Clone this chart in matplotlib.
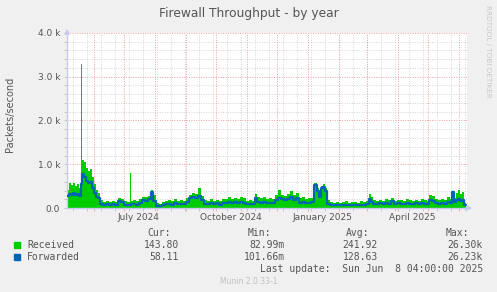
import matplotlib
matplotlib.use('Agg')
import matplotlib.pyplot as plt
import matplotlib.dates as mdates
import matplotlib.transforms as mtransforms
from matplotlib.patches import Rectangle
import numpy as np
from datetime import datetime, timedelta

# data (days since START, values in k packets/s)
START = datetime(2024, 5, 5)
LAST_UPDATE = datetime(2025, 6, 8, 4)
DAY_OFFSETS = [
    0, 2, 4, 6, 8, 10, 12, 14, 15, 17, 19, 21, 23, 25, 27, 29, 31,
    33, 36, 39, 42, 45, 48, 51, 54, 57, 60, 63, 64, 66, 69, 72, 75, 78, 81, 84, 86,
    89, 92, 95, 98, 101, 104, 107, 110, 113, 116, 119, 122, 125, 128, 131, 134,
    137, 140, 143, 146, 149, 152, 155, 158,
    161, 164, 167, 170, 173, 176, 179, 182, 185, 188, 190, 193, 196, 199, 202, 205,
    208, 211, 214, 217, 220, 223, 226, 229, 232, 235, 238, 241, 244, 247, 250, 252,
    254, 256, 258, 260,
    263, 266, 269, 272, 275, 278, 281, 284, 287, 290, 293, 296, 299, 302, 304, 306,
    309, 312, 315, 318, 321, 324, 327, 330, 333, 336, 339, 342, 345, 348, 351, 354,
    357, 360, 362, 365, 368, 371, 374, 377, 380, 383, 385, 387, 389, 391, 393, 395, 397,
]
RECEIVED_K = [
    0.42, 0.56, 0.52, 0.58, 0.50, 0.55, 0.45, 3.30, 1.10, 1.05, 0.92, 0.85, 0.90, 0.70, 0.55, 0.40, 0.35,
    0.18, 0.14, 0.16, 0.13, 0.17, 0.14, 0.22, 0.20, 0.15, 0.13, 0.80, 0.16, 0.18, 0.15, 0.20, 0.26, 0.24, 0.28, 0.42, 0.30,
    0.12, 0.10, 0.13, 0.16, 0.18, 0.15, 0.20, 0.17, 0.19, 0.16, 0.22, 0.30, 0.35, 0.32, 0.45, 0.28,
    0.18, 0.16, 0.20, 0.17, 0.19, 0.15, 0.21, 0.20,
    0.24, 0.20, 0.23, 0.21, 0.25, 0.22, 0.17, 0.19, 0.16, 0.33, 0.25, 0.22, 0.24, 0.20, 0.23, 0.21,
    0.30, 0.42, 0.30, 0.28, 0.32, 0.38, 0.30, 0.34, 0.22, 0.24, 0.20, 0.23, 0.22, 0.56, 0.45, 0.30,
    0.50, 0.55, 0.45, 0.18,
    0.13, 0.12, 0.14, 0.12, 0.13, 0.15, 0.12, 0.14, 0.13, 0.12, 0.15, 0.14, 0.16, 0.33, 0.25, 0.18,
    0.17, 0.19, 0.16, 0.20, 0.18, 0.23, 0.17, 0.19, 0.18, 0.17, 0.20, 0.18, 0.16, 0.19, 0.17, 0.21,
    0.18, 0.16, 0.30, 0.28, 0.20, 0.19, 0.21, 0.18, 0.24, 0.20, 0.38, 0.22, 0.35, 0.40, 0.33, 0.36, 0.12,
]
FORWARDED_K = [
    0.28, 0.32, 0.30, 0.34, 0.30, 0.31, 0.28, 0.55, 0.78, 0.72, 0.62, 0.58, 0.60, 0.45, 0.35, 0.26, 0.24,
    0.10, 0.07, 0.09, 0.06, 0.09, 0.07, 0.15, 0.13, 0.08, 0.07, 0.08, 0.09, 0.10, 0.08, 0.12, 0.18, 0.16, 0.20, 0.37, 0.15,
    0.05, 0.05, 0.06, 0.09, 0.10, 0.08, 0.11, 0.09, 0.10, 0.09, 0.13, 0.22, 0.26, 0.24, 0.28, 0.18,
    0.10, 0.09, 0.11, 0.10, 0.11, 0.08, 0.12, 0.11,
    0.13, 0.11, 0.13, 0.12, 0.14, 0.12, 0.09, 0.10, 0.09, 0.22, 0.14, 0.12, 0.13, 0.11, 0.12, 0.11,
    0.19, 0.24, 0.20, 0.18, 0.21, 0.25, 0.19, 0.22, 0.12, 0.13, 0.11, 0.12, 0.13, 0.53, 0.40, 0.26,
    0.45, 0.48, 0.38, 0.10,
    0.07, 0.06, 0.08, 0.07, 0.07, 0.08, 0.06, 0.08, 0.07, 0.06, 0.08, 0.07, 0.09, 0.20, 0.14, 0.10,
    0.09, 0.11, 0.09, 0.12, 0.10, 0.15, 0.10, 0.11, 0.10, 0.09, 0.12, 0.10, 0.09, 0.11, 0.10, 0.12,
    0.10, 0.09, 0.18, 0.15, 0.11, 0.10, 0.12, 0.10, 0.14, 0.12, 0.37, 0.14, 0.18, 0.20, 0.17, 0.19, 0.06,
]
SERIES = ['Received', 'Forwarded']
COLORS = ['#00CC00', '#0066B3']
CUR = ['143.80', '58.11']
MIN = ['82.99m', '101.66m']
AVG = ['241.92', '128.63']
MAX = ['26.30k', '26.23k']
Y_TICKS = [0, 1000, 2000, 3000, 4000]
Y_TICK_LABELS = ['0.0', '1.0 k', '2.0 k', '3.0 k', '4.0 k']
X_LABEL_MONTHS = [(2024, 7, 'July 2024'), (2024, 10, 'October 2024'),
                  (2025, 1, 'January 2025'), (2025, 4, 'April 2025')]

W, H = 497, 292
TXT = '#555555'
AXC = '#C8C8F0'
MINOR_C = '#D4D4D4'
MAJOR_C = '#F0A0A0'


def fx(x):
    return x / W


def fy(y):
    return 1 - y / H


dates = [START + timedelta(days=d) for d in DAY_OFFSETS] + [LAST_UPDATE]
recv = np.array(RECEIVED_K + RECEIVED_K[-1:]) * 1000
fwd = np.array(FORWARDED_K + FORWARDED_K[-1:]) * 1000
xmin, xmax = START, START + timedelta(days=400)

fig = plt.figure(figsize=(W / 100, H / 100), dpi=100, facecolor='#F0F0F0')
ax = fig.add_axes([fx(67), fy(208), fx(400), 175 / H])
ax.set_facecolor('white')
ax.set_xlim(xmin, xmax)
ax.set_ylim(0, 4000)

# grid: grey every 200 / 2 weeks, red every 1k / month
dot = (0, (1, 1.5))
for v in range(200, 4001, 200):
    major = v % 1000 == 0
    ax.axhline(v, color=MAJOR_C if major else MINOR_C, lw=0.7, ls=dot, zorder=1)
minor_x = []
d = START + timedelta(days=6)
while d < xmax:
    minor_x.append(d)
    ax.axvline(d, color=MINOR_C, lw=0.7, ls=dot, zorder=1)
    d += timedelta(days=14)
month_x = []
y, m = 2024, 6
while datetime(y, m, 1) < xmax:
    month_x.append(datetime(y, m, 1))
    ax.axvline(datetime(y, m, 1), color=MAJOR_C, lw=0.7, ls=dot, zorder=1)
    m += 1
    if m > 12:
        y, m = y + 1, 1

# data
ax.fill_between(dates, recv, step='post', color=COLORS[0], lw=0, zorder=2)
ax.step(dates, fwd, where='post', color=COLORS[1], lw=1.6, zorder=3)

# axes
for s in ['top', 'right']:
    ax.spines[s].set_visible(False)
for s in ['left', 'bottom']:
    ax.spines[s].set_color(AXC)
    ax.spines[s].set_linewidth(1.0)
ax.annotate('', xy=(0, 1.04), xytext=(0, 0.99), xycoords='axes fraction',
            arrowprops=dict(arrowstyle='-|>', color=AXC, lw=1, mutation_scale=7))
ax.annotate('', xy=(1.02, 0), xytext=(0.99, 0), xycoords='axes fraction',
            arrowprops=dict(arrowstyle='-|>', color=AXC, lw=1, mutation_scale=7))

ax.set_yticks(Y_TICKS)
ax.set_yticklabels(Y_TICK_LABELS)
ax.set_yticks(range(200, 4000, 200), minor=True)
ax.tick_params(axis='y', which='both', length=2, width=0.6, color='#C0C0C0',
               labelsize=6.5, labelcolor=TXT, pad=3)
ax.set_xticks(month_x)
ax.set_xticklabels([])
ax.set_xticks(minor_x, minor=True)
ax.tick_params(axis='x', which='major', length=2, width=0.6, color=MAJOR_C)
ax.tick_params(axis='x', which='minor', length=2, width=0.6, color='#C0C0C0')
lab_tr = mtransforms.blended_transform_factory(ax.transData, fig.transFigure)
for yr, mo, lab in X_LABEL_MONTHS:
    ax.text(mdates.date2num(datetime(yr, mo, 15, 12)), fy(217), lab, transform=lab_tr,
            ha='center', va='center', fontsize=6.5, color=TXT)

# texts
fig.text(0.5, fy(13), 'Firewall Throughput - by year', ha='center', va='center',
         fontsize=8.8, color=TXT)
fig.text(fx(10), fy(114), 'Packets/second', rotation=90, ha='center', va='center',
         fontsize=7, color=TXT)
fig.text(fx(488), fy(5), 'RRDTOOL / TOBI OETIKER', rotation=270, ha='center', va='top',
         fontsize=5.2, color='#C8C8C8')
fig.text(fx(249), fy(281), 'Munin 2.0.33-1', ha='center', va='center',
         fontsize=5.5, color='#C0C0C0')

mono = dict(family='DejaVu Sans Mono', fontsize=7, color=TXT, va='center')
for xr, lab in [(171, 'Cur:'), (271, 'Min:'), (369, 'Avg:'), (469, 'Max:')]:
    fig.text(fx(xr), fy(233), lab, ha='right', **mono)
for i, name in enumerate(SERIES):
    yc = 245 + 12 * i
    fig.add_artist(Rectangle((fx(14), fy(yc + 3)), fx(6), 6 / H, color=COLORS[i],
                             transform=fig.transFigure))
    fig.text(fx(27), fy(yc), name, ha='left', **mono)
    for xr, vals in [(179, CUR), (285, MIN), (378, AVG), (483, MAX)]:
        fig.text(fx(xr), fy(yc), vals[i], ha='right', **mono)
fig.text(fx(483), fy(269), 'Last update:  Sun Jun  8 04:00:00 2025', ha='right', **mono)

fig.savefig('out.png', dpi=100, facecolor=fig.get_facecolor())
